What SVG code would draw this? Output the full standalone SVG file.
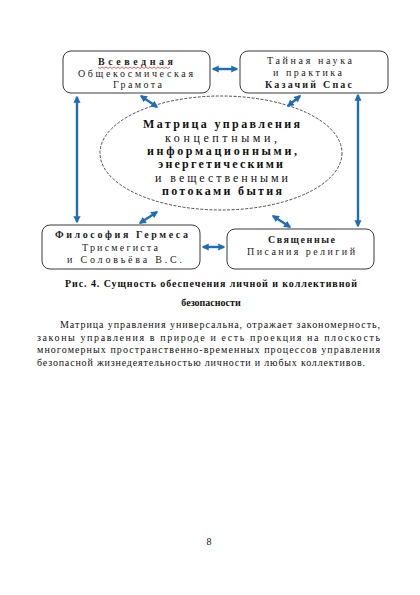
<svg xmlns="http://www.w3.org/2000/svg" width="420" height="595" viewBox="0 0 420 595">
<defs>
<style>
text{font-family:"Liberation Serif","DejaVu Serif",serif}
.box{fill:#fff;stroke:#222;stroke-width:0.9}
.t{font-size:10px;fill:#222}
.e{font-size:12px;fill:#111}
.b{font-weight:bold}
.conn{stroke:#1f6db4;stroke-width:2.4;fill:none;marker-start:url(#ah);marker-end:url(#ah)}
.p{font-size:10px;fill:#111}
.sq{stroke:#d42020;stroke-width:0.7;fill:none}
</style>
<marker id="ah" viewBox="0 0 10 10" refX="8" refY="5" markerWidth="3" markerHeight="3" orient="auto-start-reverse" markerUnits="strokeWidth">
<path d="M0,0 L10,5 L0,10 Z" fill="#1f6db4"/>
</marker>
</defs>
<rect width="420" height="595" fill="#fff"/>

<g id="center">
<ellipse cx="221" cy="153" rx="121" ry="57" fill="#fff" stroke="#222" stroke-width="0.8" stroke-dasharray="3,1.5"/>
<text class="e b" x="143" y="128" textLength="157" lengthAdjust="spacing">Матрица управления</text>
<text class="e" x="165" y="142" textLength="112" lengthAdjust="spacing">концептными,</text>
<text class="e b" x="147" y="155" textLength="150" lengthAdjust="spacing">информационными,</text>
<text class="e b" x="158" y="168" textLength="125" lengthAdjust="spacing">энергетическими</text>
<text class="e" x="155" y="182" textLength="133" lengthAdjust="spacing">и вещественными</text>
<text class="e b" x="162" y="195" textLength="120" lengthAdjust="spacing">потоками бытия</text>
</g>

<g id="box1">
<rect class="box" x="63" y="51" width="147" height="42" rx="8"/>
<text class="t b" x="98" y="65" textLength="75" lengthAdjust="spacing">Всеведная</text>
<text class="t" x="78" y="77" textLength="115" lengthAdjust="spacing">Общекосмическая</text>
<text class="t" x="113" y="88" textLength="49" lengthAdjust="spacing">Грамота</text>
<path class="sq" d="M98,67 l2,1.5 l2,-1.5 l2,1.5 l2,-1.5 l2,1.5 l2,-1.5 l2,1.5 l2,-1.5 l2,1.5 l2,-1.5 l2,1.5 l2,-1.5 l2,1.5 l2,-1.5 l2,1.5 l2,-1.5 l2,1.5 l2,-1.5 l2,1.5 l2,-1.5 l2,1.5 l2,-1.5 l2,1.5 l2,-1.5 l2,1.5 l2,-1.5 l2,1.5 l2,-1.5 l2,1.5 l2,-1.5 l2,1.5 l2,-1.5 l2,1.5 l2,-1.5 l2,1.5 l2,-1.5"/>
</g>

<g id="box2">
<rect class="box" x="240" y="51" width="148" height="42" rx="8"/>
<text class="t" x="267" y="64" textLength="85" lengthAdjust="spacing">Тайная наука</text>
<text class="t" x="273" y="76" textLength="69" lengthAdjust="spacing">и практика</text>
<text class="t b" x="265" y="88" textLength="87" lengthAdjust="spacing">Казачий Спас</text>
</g>

<g id="box3">
<rect class="box" x="42" y="225" width="158" height="44" rx="8"/>
<text class="t b" x="55" y="238" textLength="133" lengthAdjust="spacing">Философия  Гермеса</text>
<text class="t" x="82" y="251" textLength="76" lengthAdjust="spacing">Трисмегиста</text>
<text class="t" x="67" y="263" textLength="115" lengthAdjust="spacing">и Соловьёва В.С.</text>
</g>

<g id="box4">
<rect class="box" x="227" y="229" width="147" height="40" rx="8"/>
<text class="t b" x="268" y="243" textLength="67" lengthAdjust="spacing">Священные</text>
<text class="t" x="247" y="255" textLength="108" lengthAdjust="spacing">Писания религий</text>
</g>

<g id="connectors">
<line class="conn" x1="213" y1="69" x2="237" y2="69"/>
<line class="conn" x1="141" y1="96" x2="157" y2="107"/>
<line class="conn" x1="300" y1="96" x2="288" y2="106"/>
<line class="conn" x1="77" y1="97" x2="77" y2="222"/>
<line class="conn" x1="358" y1="95" x2="358" y2="226"/>
<line class="conn" x1="157" y1="212" x2="140" y2="223"/>
<line class="conn" x1="273" y1="216" x2="290" y2="227"/>
<line class="conn" x1="203" y1="247" x2="224" y2="247"/>
</g>

<g id="caption">
<text class="p b" x="65" y="287" textLength="292" lengthAdjust="spacing">Рис. 4. Сущность обеспечения личной и коллективной</text>
<text class="p b" x="211" y="306" text-anchor="middle">безопасности</text>
</g>

<g id="paragraph">
<text class="p" x="60" y="328" textLength="320" lengthAdjust="spacing">Матрица управления универсальна, отражает закономерность,</text>
<text class="p" x="37" y="340.5" textLength="343" lengthAdjust="spacing">законы управления в природе и есть проекция на плоскость</text>
<text class="p" x="37" y="353" textLength="343" lengthAdjust="spacing">многомерных пространственно-временных процессов управления</text>
<text class="p" x="37" y="365.5" textLength="328" lengthAdjust="spacing">безопасной жизнедеятельностью личности и любых коллективов.</text>
</g>

<text class="p" x="209" y="545" text-anchor="middle">8</text>
</svg>
